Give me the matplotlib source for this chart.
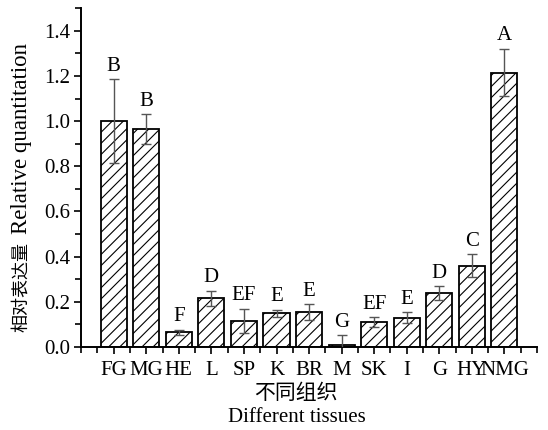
import matplotlib
matplotlib.use('Agg')
import matplotlib.pyplot as plt
from matplotlib.ticker import MultipleLocator

plt.rcParams['font.family'] = ['Liberation Serif', 'Noto Sans CJK SC']
plt.rcParams['hatch.color'] = '#333333'
plt.rcParams['hatch.linewidth'] = 0.8

# data
tissues = ['FG', 'MG', 'HE', 'L', 'SP', 'K', 'BR', 'M', 'SK', 'I', 'G', 'HY', 'NMG']
means = [1.0, 0.965, 0.065, 0.215, 0.115, 0.15, 0.155, 0.008, 0.11, 0.13, 0.24, 0.36, 1.215]
errs = [0.185, 0.065, 0.012, 0.035, 0.055, 0.015, 0.035, 0.045, 0.022, 0.025, 0.03, 0.05, 0.105]
letters = ['B', 'B', 'F', 'D', 'EF', 'E', 'E', 'G', 'EF', 'E', 'D', 'C', 'A']

pos = list(range(1, len(tissues) + 1))

fig = plt.figure(figsize=(5.48, 4.30), dpi=100)
ax = fig.add_axes([0.148, 0.193, 0.832, 0.788])

ax.bar(pos, means, width=0.8, color='white', edgecolor='black', linewidth=1.3,
       hatch='///', zorder=2)
ax.errorbar(pos, means, yerr=errs, fmt='none', ecolor='#555555', elinewidth=1.0,
            capsize=3.5, capthick=1.0, zorder=3)

# significance letters above the error bars
for x, m, e, s in zip(pos, means, errs, letters):
    ax.text(x, m + e + 0.015, s, ha='center', va='bottom', fontsize=15)

ax.set_xlim(0, 14)
ax.set_ylim(0, 1.5)
ax.set_xticks(pos)
ax.set_xticklabels(tissues, fontsize=15)
ax.xaxis.set_minor_locator(MultipleLocator(0.5))
ax.yaxis.set_major_locator(MultipleLocator(0.2))
ax.yaxis.set_minor_locator(MultipleLocator(0.1))
ax.yaxis.set_major_formatter(matplotlib.ticker.FormatStrFormatter('%.1f'))
ax.tick_params(axis='y', labelsize=15)
ax.tick_params(which='both', direction='out', width=1.2)
ax.tick_params(which='major', length=5)
ax.tick_params(which='minor', length=4)
ax.tick_params(axis='x', pad=5)
ax.tick_params(axis='y', pad=3)

for sp in ['top', 'right']:
    ax.spines[sp].set_visible(False)
for sp in ['left', 'bottom']:
    ax.spines[sp].set_linewidth(1.4)

# axis titles: chinese and english parts set separately (different sizes in the original)
fig.text(0.040, 0.333, '相对表达量', rotation=90, ha='center', va='center', fontsize=13)
fig.text(0.040, 0.679, 'Relative quantitation', rotation=90, ha='center', va='center', fontsize=16.5)
fig.text(0.540, 0.084, '不同组织', ha='center', va='center', fontsize=15)
fig.text(0.542, 0.028, 'Different tissues', ha='center', va='center', fontsize=15)

plt.savefig('out.png', dpi=100)
plt.close()
